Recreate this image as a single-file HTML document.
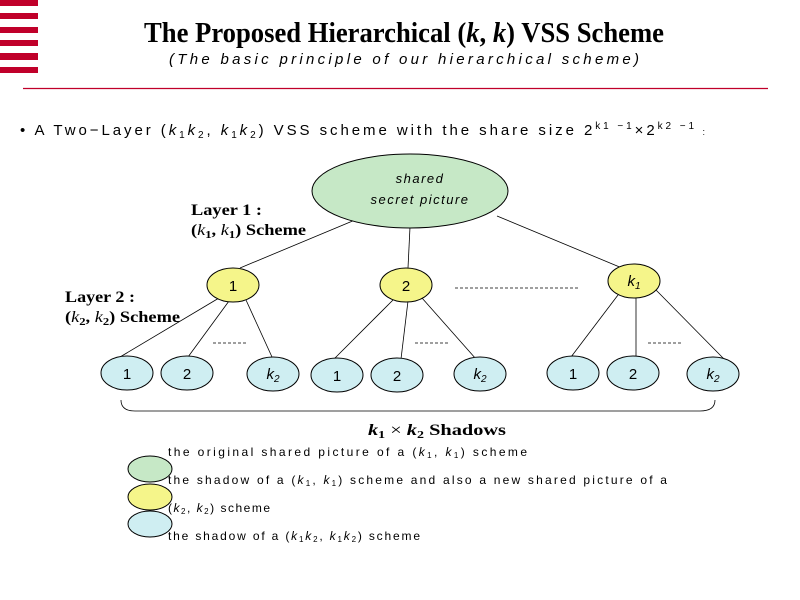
<!DOCTYPE html>
<html><head><meta charset="utf-8"><style>
body{margin:0;background:#fff}
svg{display:block}
.s{font-family:"Liberation Sans",sans-serif}
.b{font-family:"Liberation Serif",serif;font-weight:bold}
</style></head><body>
<svg width="800" height="600" viewBox="0 0 800 600" xmlns="http://www.w3.org/2000/svg">
<g fill="#c0002a">
<rect x="0" y="0" width="38" height="6"/><rect x="0" y="13" width="38" height="6"/>
<rect x="0" y="27" width="38" height="6"/><rect x="0" y="40" width="38" height="6"/>
<rect x="0" y="53" width="38" height="7"/><rect x="0" y="67" width="38" height="6"/>
</g>
<text x="404" y="42" text-anchor="middle" class="b" font-size="29" textLength="520" lengthAdjust="spacingAndGlyphs">The Proposed Hierarchical (<tspan font-style="italic">k</tspan>, <tspan font-style="italic">k</tspan>) VSS Scheme</text>
<text x="404" y="64" text-anchor="middle" class="s" font-size="15" font-style="italic" textLength="470" lengthAdjust="spacing">(The basic principle of our hierarchical scheme)</text>
<line x1="23" y1="88.5" x2="768" y2="88.5" stroke="#c0002a" stroke-width="1.2"/>
<text x="20" y="135" class="s" font-size="15" textLength="685" lengthAdjust="spacing">• A Two−Layer (<tspan font-style="italic">k</tspan><tspan font-size="10" dy="3">1</tspan><tspan font-style="italic" dy="-3">k</tspan><tspan font-size="10" dy="3">2</tspan><tspan dy="-3">, </tspan><tspan font-style="italic">k</tspan><tspan font-size="10" dy="3">1</tspan><tspan font-style="italic" dy="-3">k</tspan><tspan font-size="10" dy="3">2</tspan><tspan dy="-3">) VSS scheme with the share size 2</tspan><tspan font-size="10" dy="-6">k1 −1</tspan><tspan dy="6">×2</tspan><tspan font-size="10" dy="-6">k2 −1</tspan><tspan dy="6" font-size="9">  :</tspan></text>
<g stroke="#000" stroke-width="0.8" fill="none">
<line x1="355" y1="220" x2="240" y2="268"/><line x1="410" y1="227" x2="408" y2="268"/><line x1="497" y1="216" x2="622" y2="268"/>
<line x1="219" y1="298" x2="120" y2="357"/><line x1="229" y1="301" x2="188" y2="357"/><line x1="246" y1="300" x2="272" y2="357"/>
<line x1="395" y1="298" x2="334" y2="359"/><line x1="408" y1="301" x2="401" y2="359"/><line x1="422" y1="298" x2="476" y2="359"/>
<line x1="618" y1="295" x2="571" y2="357"/><line x1="636" y1="298" x2="636" y2="357"/><line x1="656" y1="290" x2="724" y2="359"/>
<line x1="455" y1="288" x2="580" y2="288" stroke-dasharray="3,2"/>
<line x1="213" y1="343" x2="248" y2="343" stroke-dasharray="3,2"/>
<line x1="415" y1="343" x2="448" y2="343" stroke-dasharray="3,2"/>
<line x1="648" y1="343" x2="682" y2="343" stroke-dasharray="3,2"/>
<path d="M121,400 Q121,411 135,411 L700,411 Q715,411 715,400"/>
</g>
<ellipse cx="410" cy="191" rx="98" ry="37" fill="#c6e8c6" stroke="#000"/>
<text x="420" y="183" text-anchor="middle" class="s" font-size="13" font-style="italic" letter-spacing="1.5">shared</text>
<text x="420" y="204" text-anchor="middle" class="s" font-size="13" font-style="italic" letter-spacing="1.5">secret picture</text>
<g fill="#f5f58a" stroke="#000">
<ellipse cx="233" cy="285" rx="26" ry="17"/><ellipse cx="406" cy="285" rx="26" ry="17"/><ellipse cx="634" cy="281" rx="26" ry="17"/>
</g>
<g class="s" font-size="15" text-anchor="middle">
<text x="233" y="291">1</text><text x="406" y="291">2</text>
<text x="634" y="286" font-style="italic">k<tspan font-size="10" dy="3">1</tspan></text>
</g>
<g fill="#cfeef2" stroke="#000">
<ellipse cx="127" cy="373" rx="26" ry="17"/><ellipse cx="187" cy="373" rx="26" ry="17"/><ellipse cx="273" cy="374" rx="26" ry="17"/>
<ellipse cx="337" cy="375" rx="26" ry="17"/><ellipse cx="397" cy="375" rx="26" ry="17"/><ellipse cx="480" cy="374" rx="26" ry="17"/>
<ellipse cx="573" cy="373" rx="26" ry="17"/><ellipse cx="633" cy="373" rx="26" ry="17"/><ellipse cx="713" cy="374" rx="26" ry="17"/>
</g>
<g class="s" font-size="15" text-anchor="middle">
<text x="127" y="379">1</text><text x="187" y="379">2</text><text x="273" y="379" font-style="italic">k<tspan font-size="10" dy="3">2</tspan></text>
<text x="337" y="381">1</text><text x="397" y="381">2</text><text x="480" y="379" font-style="italic">k<tspan font-size="10" dy="3">2</tspan></text>
<text x="573" y="379">1</text><text x="633" y="379">2</text><text x="713" y="379" font-style="italic">k<tspan font-size="10" dy="3">2</tspan></text>
</g>
<g class="b" font-size="16">
<text x="191" y="215" textLength="71" lengthAdjust="spacingAndGlyphs">Layer 1 :</text>
<text x="191" y="235" textLength="115" lengthAdjust="spacingAndGlyphs">(<tspan font-style="italic" font-weight="normal">k</tspan><tspan font-size="11" dy="3">1</tspan><tspan dy="-3">, </tspan><tspan font-style="italic" font-weight="normal">k</tspan><tspan font-size="11" dy="3">1</tspan><tspan dy="-3">) Scheme</tspan></text>
<text x="65" y="302" textLength="70" lengthAdjust="spacingAndGlyphs">Layer 2 :</text>
<text x="65" y="322" textLength="115" lengthAdjust="spacingAndGlyphs">(<tspan font-style="italic" font-weight="normal">k</tspan><tspan font-size="11" dy="3">2</tspan><tspan dy="-3">, </tspan><tspan font-style="italic" font-weight="normal">k</tspan><tspan font-size="11" dy="3">2</tspan><tspan dy="-3">) Scheme</tspan></text>
<text x="368" y="435" textLength="138" lengthAdjust="spacingAndGlyphs"><tspan font-style="italic">k</tspan><tspan font-size="11" dy="3">1</tspan><tspan dy="-3" font-weight="normal">  × </tspan><tspan font-style="italic">k</tspan><tspan font-size="11" dy="3">2</tspan><tspan dy="-3">  Shadows</tspan></text>
</g>
<ellipse cx="150" cy="469" rx="22" ry="13" fill="#c6e8c6" stroke="#000"/>
<ellipse cx="150" cy="497" rx="22" ry="13" fill="#f5f58a" stroke="#000"/>
<ellipse cx="150" cy="524" rx="22" ry="13" fill="#cfeef2" stroke="#000"/>
<g class="s" font-size="12">
<text x="168" y="456" textLength="359" lengthAdjust="spacing">the original shared picture of a (<tspan font-style="italic">k</tspan><tspan font-size="8" dy="2">1</tspan><tspan dy="-2">, </tspan><tspan font-style="italic">k</tspan><tspan font-size="8" dy="2">1</tspan><tspan dy="-2">) scheme</tspan></text>
<text x="168" y="484" textLength="499" lengthAdjust="spacing">the shadow of a (<tspan font-style="italic">k</tspan><tspan font-size="8" dy="2">1</tspan><tspan dy="-2">, </tspan><tspan font-style="italic">k</tspan><tspan font-size="8" dy="2">1</tspan><tspan dy="-2">) scheme and also a new shared picture of a</tspan></text>
<text x="168" y="512" textLength="102" lengthAdjust="spacing">(<tspan font-style="italic">k</tspan><tspan font-size="8" dy="2">2</tspan><tspan dy="-2">, </tspan><tspan font-style="italic">k</tspan><tspan font-size="8" dy="2">2</tspan><tspan dy="-2">) scheme</tspan></text>
<text x="168" y="540" textLength="252" lengthAdjust="spacing">the shadow of a (<tspan font-style="italic">k</tspan><tspan font-size="8" dy="2">1</tspan><tspan font-style="italic" dy="-2">k</tspan><tspan font-size="8" dy="2">2</tspan><tspan dy="-2">, </tspan><tspan font-style="italic">k</tspan><tspan font-size="8" dy="2">1</tspan><tspan font-style="italic" dy="-2">k</tspan><tspan font-size="8" dy="2">2</tspan><tspan dy="-2">) scheme</tspan></text>
</g>
</svg>
</body></html>
